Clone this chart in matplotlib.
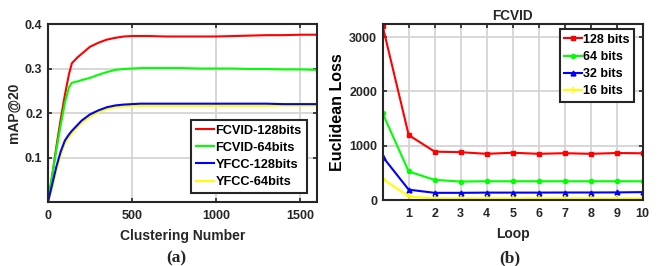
import matplotlib
matplotlib.use("Agg")
import matplotlib.pyplot as plt

plt.rcParams['font.family'] = ['Liberation Sans', 'DejaVu Sans']
plt.rcParams['font.weight'] = 'bold'

# ---- Panel (a) data ----
clusters = [0, 25, 50, 75, 100, 125, 142, 175, 200, 250, 300, 350, 400, 450, 500,
            550, 600, 700, 800, 900, 1000, 1100, 1200, 1300, 1400, 1500, 1600]
fcvid_128 = [0, 0.06, 0.125, 0.185, 0.24, 0.288, 0.312, 0.325, 0.333, 0.349, 0.358,
             0.365, 0.369, 0.372, 0.373, 0.373, 0.373, 0.372, 0.372, 0.372, 0.372,
             0.373, 0.374, 0.375, 0.375, 0.376, 0.376]
fcvid_64 = [0, 0.06, 0.118, 0.172, 0.222, 0.258, 0.268, 0.271, 0.274, 0.279, 0.286,
            0.292, 0.297, 0.299, 0.300, 0.301, 0.301, 0.301, 0.301, 0.300, 0.300,
            0.300, 0.299, 0.299, 0.298, 0.298, 0.297]
yfcc_128 = [0, 0.04, 0.08, 0.113, 0.138, 0.152, 0.160, 0.173, 0.183, 0.197, 0.206,
            0.213, 0.217, 0.219, 0.220, 0.221, 0.221, 0.221, 0.221, 0.221, 0.221,
            0.221, 0.221, 0.221, 0.220, 0.220, 0.220]
yfcc_64 = [0, 0.03, 0.07, 0.104, 0.131, 0.146, 0.154, 0.168, 0.178, 0.192, 0.202,
           0.209, 0.213, 0.215, 0.216, 0.216, 0.216, 0.216, 0.216, 0.216, 0.216,
           0.216, 0.216, 0.216, 0.217, 0.217, 0.217]
labels_a = ['FCVID-128bits', 'FCVID-64bits', 'YFCC-128bits', 'YFCC-64bits']

# ---- Panel (b) data ----
loops = [0, 1, 2, 3, 4, 5, 6, 7, 8, 9, 10]
loss_128 = [3200, 1195, 890, 880, 850, 870, 850, 862, 850, 865, 860]
loss_64 = [1595, 525, 370, 340, 345, 345, 345, 345, 345, 345, 345]
loss_32 = [796, 190, 132, 132, 136, 136, 136, 138, 138, 140, 145]
loss_16 = [390, 65, 28, 28, 28, 28, 28, 28, 28, 28, 28]
labels_b = ['128 bits', '64 bits', '32 bits', '16 bits']

RED = '#ff0000'
GREEN = '#00ff00'
BLUE = '#0000ff'
YELLOW = '#ffff00'
TICKC = '#262626'

fig = plt.figure(figsize=(6.57, 2.66), dpi=100)

def style_axes(ax):
    for s in ax.spines.values():
        s.set_linewidth(1.5)
        s.set_color('#262626')
    ax.grid(True, color='#d4d4d4', linewidth=1.3)
    ax.set_axisbelow(True)
    ax.tick_params(direction='in', length=3, width=1.2, top=True, right=True,
                   labelsize=9, colors=TICKC)
    ax.tick_params(axis='x', pad=6)
    ax.tick_params(axis='y', pad=4)
    for lab in ax.get_xticklabels() + ax.get_yticklabels():
        lab.set_fontweight('bold')

# Panel (a)
ax1 = fig.add_axes([0.0731, 0.2406, 0.4094, 0.669])
ax1.plot(clusters, fcvid_128, color=RED, lw=1.5, label=labels_a[0])
ax1.plot(clusters, fcvid_64, color=GREEN, lw=1.5, label=labels_a[1])
ax1.plot(clusters, yfcc_64, color=YELLOW, lw=1.5, label=labels_a[3])
ax1.plot(clusters, yfcc_128, color=BLUE, lw=1.5, label=labels_a[2])
ax1.set_xlim(0, 1600)
ax1.set_ylim(0, 0.4)
ax1.set_xticks([0, 500, 1000, 1500])
ax1.set_yticks([0.1, 0.2, 0.3, 0.4])
ax1.set_yticklabels(['0.1', '0.2', '0.3', '0.4'])
style_axes(ax1)
ax1.set_xlabel('Clustering Number', fontsize=10, fontweight='bold', color=TICKC, labelpad=5)
ax1.set_ylabel('mAP@20', fontsize=10, fontweight='bold', color=TICKC, labelpad=3)
h, l = ax1.get_legend_handles_labels()
order = [0, 1, 3, 2]
leg1 = ax1.legend([h[i] for i in order], [l[i] for i in order],
                  loc='lower right', bbox_to_anchor=(0.962, 0.05),
                  prop={'weight': 'bold', 'size': 9.2},
                  frameon=True, fancybox=False, handlelength=1.45, handletextpad=0.1,
                  borderpad=0.4, labelspacing=0.4, borderaxespad=0)
leg1.get_frame().set_edgecolor('#262626')
leg1.get_frame().set_linewidth(1.5)
leg1.get_frame().set_alpha(1)

# Panel (b)
ax2 = fig.add_axes([0.5825, 0.2481, 0.3957, 0.6617])
ax2.plot(loops, loss_128, color=RED, lw=1.5, marker='s', ms=3, label=labels_b[0])
ax2.plot(loops, loss_64, color=GREEN, lw=1.5, marker='o', ms=3, label=labels_b[1])
ax2.plot(loops, loss_32, color=BLUE, lw=1.5, marker='^', ms=3.5, label=labels_b[2])
ax2.plot(loops, loss_16, color=YELLOW, lw=1.5, marker='+', ms=4, mew=1.2, label=labels_b[3])
ax2.set_xlim(0, 10)
ax2.set_ylim(0, 3240)
ax2.set_xticks([1, 2, 3, 4, 5, 6, 7, 8, 9, 10])
ax2.set_yticks([0, 1000, 2000, 3000])
style_axes(ax2)
ax2.set_xlabel('Loop', fontsize=10, fontweight='bold', color=TICKC, labelpad=5)
ax2.set_ylabel('Euclidean Loss', fontsize=11.5, fontweight='bold', color='black', labelpad=3)
ax2.set_title('FCVID', fontsize=9.8, fontweight='bold', color=TICKC, pad=3)
leg2 = ax2.legend(loc='upper right', bbox_to_anchor=(0.967, 0.97),
                  prop={'weight': 'bold', 'size': 9},
                  frameon=True, fancybox=False, handlelength=1.4, handletextpad=0.1,
                  borderpad=0.35, labelspacing=0.42, borderaxespad=0, markerscale=1.0)
leg2.get_frame().set_edgecolor('#262626')
leg2.get_frame().set_linewidth(1.5)
leg2.get_frame().set_alpha(1)

fig.text(176 / 657, 1 - 258 / 266, '(a)', family=['Liberation Serif', 'DejaVu Serif'],
         fontsize=12.5, fontweight='bold', ha='center', va='center', color=TICKC)
fig.text(510 / 657, 1 - 258 / 266, '(b)', family=['Liberation Serif', 'DejaVu Serif'],
         fontsize=12.5, fontweight='bold', ha='center', va='center', color=TICKC)

fig.savefig('out.png', dpi=100)
